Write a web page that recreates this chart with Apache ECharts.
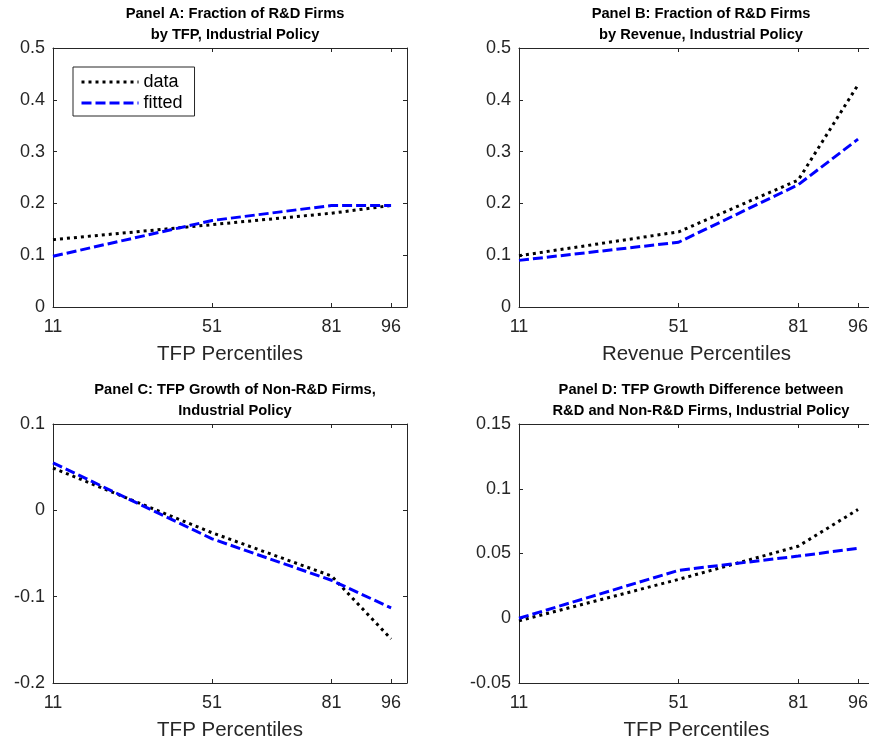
<!DOCTYPE html>
<html>
<head>
<meta charset="utf-8">
<script src="https://cdn.jsdelivr.net/npm/echarts@6/dist/echarts.min.js"></script>
<style>html,body{margin:0;padding:0;background:#fff;overflow:hidden}#c{width:880px;height:742px}</style>
</head>
<body>
<div id="c"></div>
<script>
const percentiles = [11, 51, 81, 96];
const xTicks = [11, 51, 81, 96];

const panelA_data = [0.130, 0.159, 0.181, 0.196];
const panelA_fitted = [0.098, 0.167, 0.196, 0.196];
const panelB_data = [0.099, 0.145, 0.245, 0.429];
const panelB_fitted = [0.090, 0.125, 0.236, 0.324];
const panelC_data = [0.049, -0.026, -0.076, -0.149];
const panelC_fitted = [0.055, -0.033, -0.081, -0.113];
const panelD_data = [-0.002, 0.030, 0.0556, 0.084];
const panelD_fitted = [0.000, 0.037, 0.048, 0.054];

const titles = [
  'Panel A: Fraction of R&D Firms\nby TFP, Industrial Policy',
  'Panel B: Fraction of R&D Firms\nby Revenue, Industrial Policy',
  'Panel C: TFP Growth of Non-R&D Firms,\nIndustrial Policy',
  'Panel D: TFP Growth Difference between\nR&D and Non-R&D Firms, Industrial Policy'
];
const xNames = ['TFP Percentiles', 'Revenue Percentiles', 'TFP Percentiles', 'TFP Percentiles'];
const yRanges = [[0, 0.5, 0.1], [0, 0.5, 0.1], [-0.2, 0.1, 0.1], [-0.05, 0.15, 0.05]];
const dataSets = [[panelA_data, panelA_fitted], [panelB_data, panelB_fitted], [panelC_data, panelC_fitted], [panelD_data, panelD_fitted]];

const FONT = '"Liberation Sans", Arial, Helvetica, sans-serif';
const AX = '#262626';
const grids = [
  {left: 53, top: 48, width: 354, height: 259},
  {left: 519, top: 48, width: 355, height: 259},
  {left: 53, top: 424, width: 354, height: 259},
  {left: 519, top: 424, width: 355, height: 259}
];
const titleTops = [-2, -2, 374, 374];
const fmt = v => parseFloat(Number(v).toFixed(4)).toString();

const xAxes = [], yAxes = [], series = [], title = [];
grids.forEach((g, i) => {
  title.push({
    text: titles[i], left: g.left + 177, top: titleTops[i], textAlign: 'center',
    textStyle: {fontFamily: FONT, fontSize: 14.7, fontWeight: 'bold', color: '#000', lineHeight: 21}
  });
  const xBase = {
    gridIndex: i, type: 'value', min: 11, max: 100,
    splitLine: {show: false},
    axisLine: {show: true, onZero: false, lineStyle: {color: AX, width: 1}},
    axisTick: {show: true, inside: true, length: 4, customValues: xTicks, lineStyle: {color: AX}}
  };
  xAxes.push(Object.assign({}, xBase, {
    position: 'bottom',
    name: xNames[i], nameLocation: 'middle', nameGap: 37,
    nameTextStyle: {fontFamily: FONT, fontSize: 20.5, color: AX},
    axisLabel: {show: true, customValues: xTicks, margin: 11, fontFamily: FONT, fontSize: 18, color: AX}
  }));
  xAxes.push(Object.assign({}, xBase, {position: 'top', axisLabel: {show: false}}));
  const [mn, mx, iv] = yRanges[i];
  const yBase = {
    gridIndex: i, type: 'value', min: mn, max: mx, interval: iv,
    splitLine: {show: false},
    axisLine: {show: true, onZero: false, lineStyle: {color: AX, width: 1}},
    axisTick: {show: true, inside: true, length: 4, lineStyle: {color: AX}}
  };
  yAxes.push(Object.assign({}, yBase, {
    position: 'left',
    axisLabel: {show: true, margin: 8, fontFamily: FONT, fontSize: 18, color: AX, formatter: fmt}
  }));
  yAxes.push(Object.assign({}, yBase, {position: 'right', axisLabel: {show: false}}));
  const [d, f] = dataSets[i];
  series.push({
    name: 'data', type: 'line', xAxisIndex: 2 * i, yAxisIndex: 2 * i,
    data: percentiles.map((x, k) => [x, d[k]]),
    symbol: 'none', silent: true, animation: false,
    lineStyle: {color: '#000', width: 3, type: [3, 4]}
  });
  series.push({
    name: 'fitted', type: 'line', xAxisIndex: 2 * i, yAxisIndex: 2 * i,
    data: percentiles.map((x, k) => [x, f[k]]),
    symbol: 'none', silent: true, animation: false,
    lineStyle: {color: '#0000ff', width: 3, type: [10, 4]}
  });
});

const chart = echarts.init(document.getElementById('c'), null, {renderer: 'canvas'});
chart.setOption({
  animation: false,
  backgroundColor: '#fff',
  title: title,
  grid: grids,
  xAxis: xAxes,
  yAxis: yAxes,
  legend: {
    data: ['data', 'fitted'], orient: 'vertical', left: 73, top: 67,
    padding: [6, 12, 4, 7], itemGap: 3, itemWidth: 57, itemHeight: 14,
    backgroundColor: '#fff', borderColor: AX, borderWidth: 1,
    selectedMode: false,
    itemStyle: {opacity: 0},
    lineStyle: {width: 3},
    textStyle: {fontFamily: FONT, fontSize: 18, color: '#000', lineHeight: 18}
  },
  series: series
});
</script>
</body>
</html>
